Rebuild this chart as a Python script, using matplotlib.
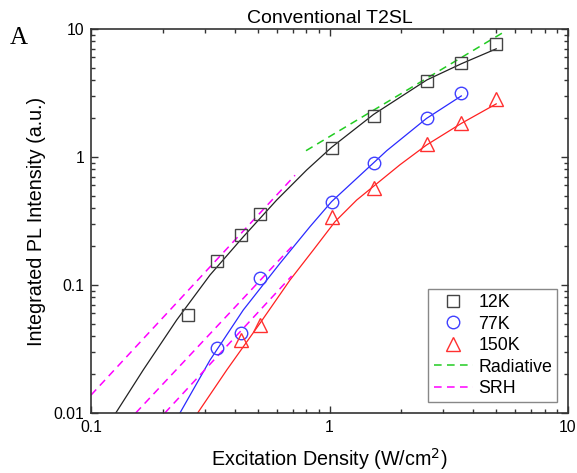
import matplotlib
matplotlib.use("Agg")
import matplotlib.pyplot as plt
from matplotlib.ticker import FixedLocator, FixedFormatter, LogLocator, NullFormatter

plt.rcParams['font.family'] = ['Liberation Sans', 'DejaVu Sans']

# measured points (W/cm2, a.u.)
x_12k = [0.254, 0.339, 0.425, 0.511, 1.02, 1.53, 2.56, 3.56, 4.99]
y_12k = [0.058, 0.154, 0.246, 0.356, 1.18, 2.10, 3.93, 5.46, 7.59]

x_77k = [0.339, 0.425, 0.511, 1.02, 1.53, 2.56, 3.56]
y_77k = [0.032, 0.0424, 0.114, 0.448, 0.898, 2.03, 3.14]

x_150k = [0.425, 0.511, 1.02, 1.53, 2.56, 3.56, 4.99]
y_150k = [0.037, 0.049, 0.342, 0.575, 1.26, 1.85, 2.82]

# fit curves
fit12_x = [0.127, 0.1656, 0.2287, 0.3155, 0.435, 0.6006, 0.802, 1.02, 1.53, 2.56, 3.57, 5.0]
fit12_y = [0.01, 0.0217, 0.0533, 0.1197, 0.238, 0.461, 0.791, 1.19, 2.15, 4.0, 5.35, 7.0]

fit77_x = [0.236, 0.3155, 0.435, 0.620, 0.828, 1.02, 1.53, 1.737, 2.55, 3.57]
fit77_y = [0.01, 0.0259, 0.0638, 0.1477, 0.2854, 0.448, 0.9, 1.12, 2.0, 3.0]

fit150_x = [0.28, 0.371, 0.511, 0.683, 0.855, 1.054, 1.30, 1.975, 2.55, 3.57, 5.0]
fit150_y = [0.01, 0.0217, 0.0502, 0.1094, 0.1875, 0.312, 0.461, 0.87, 1.24, 1.83, 2.6]

# radiative / SRH guide lines (end points)
rad_x = [0.797, 5.36]
rad_y = [1.12, 9.42]
srh1_x = [0.1, 0.717]
srh1_y = [0.0138, 0.72]
srh2_x = [0.154, 0.694]
srh2_y = [0.01, 0.199]
srh3_x = [0.204, 0.694]
srh3_y = [0.01, 0.1175]

fig = plt.figure(figsize=(5.77, 4.73), dpi=100)
ax = fig.add_axes([91/577, 1 - 413/473, 477/577, 384/473])

ax.plot(fit12_x, fit12_y, color="#222222", lw=0.9)
ax.plot(fit77_x, fit77_y, color="#2a2aff", lw=0.9)
ax.plot(fit150_x, fit150_y, color="#ff2020", lw=0.9)

ax.plot(rad_x, rad_y, color="#22cc22", lw=1.1, dashes=(5, 3.5))
ax.plot(srh1_x, srh1_y, color="#ff00ff", lw=1.1, dashes=(5, 3.5))
ax.plot(srh2_x, srh2_y, color="#ff00ff", lw=1.1, dashes=(5, 3.5))
ax.plot(srh3_x, srh3_y, color="#ff00ff", lw=1.1, dashes=(5, 3.5))

ax.plot(x_12k, y_12k, ls="none", marker="s", ms=8, mfc="none", mec="#444444", mew=1.0)
ax.plot(x_77k, y_77k, ls="none", marker="o", ms=9, mfc="none", mec="#4040ff", mew=1.0)
ax.plot(x_150k, y_150k, ls="none", marker="^", ms=10, mfc="none", mec="#ff3030", mew=1.0)

ax.set_xscale("log")
ax.set_yscale("log")
ax.set_xlim(0.1, 10)
ax.set_ylim(0.01, 10)

ax.xaxis.set_major_locator(FixedLocator([0.1, 1, 10]))
ax.xaxis.set_major_formatter(FixedFormatter(["0.1", "1", "10"]))
ax.yaxis.set_major_locator(FixedLocator([0.01, 0.1, 1, 10]))
ax.yaxis.set_major_formatter(FixedFormatter(["0.01", "0.1", "1", "10"]))
ax.xaxis.set_minor_locator(LogLocator(base=10, subs=range(2, 10)))
ax.yaxis.set_minor_locator(LogLocator(base=10, subs=range(2, 10)))
ax.xaxis.set_minor_formatter(NullFormatter())
ax.yaxis.set_minor_formatter(NullFormatter())

ax.tick_params(which="both", direction="in", top=True, right=True, color="#333333", width=1.0)
ax.tick_params(which="major", length=5, labelsize=11.3, pad=5)
ax.tick_params(which="minor", length=3)
for s in ax.spines.values():
    s.set_linewidth(1.2)
    s.set_color("#333333")

ax.set_xlabel("Excitation Density (W/cm$^2$)", fontsize=14.2, labelpad=8)
ax.set_ylabel("Integrated PL Intensity (a.u.)", fontsize=14.2, labelpad=5)
ax.set_title("Conventional T2SL", fontsize=14, pad=4)

fig.text(19/577, 1 - 38/473, "A", family="Liberation Serif", fontsize=18, ha="center", va="center")

# legend handles
h1, = ax.plot([], [], ls="none", marker="s", ms=8, mfc="none", mec="#444444", mew=1.0)
h2, = ax.plot([], [], ls="none", marker="o", ms=9, mfc="none", mec="#4040ff", mew=1.0)
h3, = ax.plot([], [], ls="none", marker="^", ms=10, mfc="none", mec="#ff3030", mew=1.0)
h4, = ax.plot([], [], color="#22cc22", lw=1.1, dashes=(5, 3.5))
h5, = ax.plot([], [], color="#ff00ff", lw=1.1, dashes=(5, 3.5))
leg = ax.legend([h1, h2, h3, h4, h5], ["12K", "77K", "150K", "Radiative", "SRH"],
                loc="lower right", fontsize=12.8, fancybox=False, framealpha=1,
                edgecolor="#888888", borderpad=0.3, labelspacing=0.25,
                handlelength=2.2, handletextpad=0.3, borderaxespad=0.6)
leg.get_frame().set_linewidth(1.0)

fig.savefig("out.png", dpi=100)
